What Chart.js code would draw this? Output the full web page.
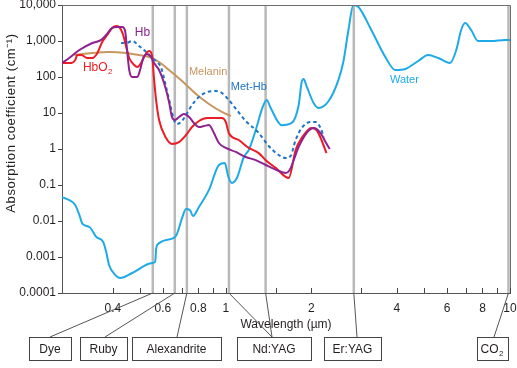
<!DOCTYPE html>
<html>
<head>
<meta charset="utf-8">
<script src="https://cdn.jsdelivr.net/npm/chart.js@4.4.1/dist/chart.umd.min.js"></script>
<style>
  html, body { margin: 0; padding: 0; background: #fff; }
  #chart { display: block; }
</style>
</head>
<body>
<canvas id="chart" width="517" height="368"></canvas>
<script>
// wavelength in µm, absorption coefficient in cm^-1
const waterWl  = [0.265,0.281,0.295,0.305,0.313,0.331,0.350,0.370,0.379,0.388,0.405,0.425,0.468,0.550,0.564,0.568,0.577,0.657,0.673,0.701,0.724,0.748,0.766,0.804,0.872,0.945,0.992,1.016,1.05,1.093,1.157,1.204,1.274,1.348,1.393,1.438,1.572,1.705,1.804,1.848,1.878,1.923,2.036,2.12,2.30,2.49,2.59,2.70,2.81,2.93,3.25,3.64,3.95,4.28,4.75,5.15,5.59,6.15,6.47,6.73,6.95,7.30,7.72,8.58,9.60,10];
const waterAbs = [0.046,0.038,0.028,0.0147,0.0083,0.0068,0.0036,0.0026,0.0014,0.0006,0.00034,0.00026,0.00036,0.00068,0.00073,0.0016,0.0023,0.0034,0.0044,0.012,0.0215,0.020,0.0138,0.0245,0.073,0.36,0.41,0.19,0.114,0.156,0.60,0.94,3.37,14.7,23,13.8,4.6,5.3,16.7,72,88,56,19,13.8,21.5,83,261,2020,10000,8800,2020,360,156,167,278,408,337,245,562,2020,3160,2020,1000,1000,1070,1070];

const hbWl  = [0.265,0.281,0.305,0.339,0.364,0.379,0.398,0.414,0.432,0.442,0.449,0.457,0.468,0.488,0.499,0.512,0.528,0.546,0.559,0.582,0.606,0.631,0.646,0.662,0.684,0.712,0.742,0.772,0.804,0.837,0.872,0.908,0.945,1.0,1.084,1.175,1.274,1.381,1.510,1.624,1.677,1.733,1.804,1.923,2.036,2.153,2.243,2.32];
const hbAbs = [245,337,562,880,1070,1470,2300,2450,2450,1900,562,156,100,100,156,337,435,360,245,156,68,20.2,7.74,6.4,7.74,9.4,7.74,5.3,4.08,4.35,4.64,2.78,1.47,1.07,0.83,0.60,0.49,0.36,0.26,0.215,0.26,0.49,1.14,2.78,3.83,2.78,1.56,1.0];

const hbo2Wl  = [0.265,0.286,0.295,0.300,0.310,0.325,0.339,0.353,0.367,0.382,0.398,0.411,0.421,0.435,0.446,0.457,0.476,0.488,0.503,0.520,0.537,0.550,0.559,0.568,0.582,0.616,0.646,0.684,0.724,0.760,0.804,0.858,0.922,0.968,1.0,1.024,1.11,1.204,1.305,1.381,1.497,1.664,1.76,1.849,2.0,2.085,2.17,2.26];
const hbo2Abs = [245,245,297,408,408,337,337,464,938,1470,2300,2610,2450,1470,681,337,215,190,245,408,527,383,83,23,6.4,2.02,1.38,1.56,2.45,4.08,6.0,7.26,7.26,7.26,5.6,2.78,1.78,1.07,0.77,0.49,0.30,0.156,0.94,2.02,3.83,3.37,1.78,0.77];

const melaninWl  = [0.293,0.339,0.388,0.446,0.495,0.537,0.582,0.631,0.701,0.785,0.872,0.968,1.041];
const melaninAbs = [408,464,495,464,408,360,261,156,77,33.7,17.8,10.7,8.25];

const metHbWl  = [0.428,0.446,0.468,0.495,0.524,0.550,0.568,0.592,0.616,0.641,0.657,0.673,0.695,0.724,0.760,0.804,0.858,0.922,0.968,1.024,1.093,1.175,1.305,1.415,1.535,1.624,1.690,1.760,1.849,1.987,2.07,2.155,2.21];
const metHbAbs = [880,880,1000,726,495,337,278,178,52.7,13.8,6.4,4.95,5.6,8.8,16.7,27.8,38.3,40.8,35.9,23,12.1,6.0,2.78,1.21,0.68,0.56,0.64,1.78,3.83,5.6,5.6,3.83,2.15];

// laser lines
const laserNames = ['Dye','Ruby','Alexandrite','Nd:YAG','Nd:YAG','Er:YAG','CO2'];
const laserWl    = [0.553,0.661,0.729,1.025,1.38,2.82,10];

// axis ticks
const xTickValues = [0.4,0.5,0.6,0.7,0.8,0.9,1,1.5,2,3,4,5,6,7,8,9,10];
const xTickLabels = ['0.4','','0.6','','0.8','','1','','2','','4','','6','','8','','10'];
const yTickValues = [0.0001,0.001,0.01,0.1,1,10,100,1000,10000];
const yTickLabels = ['0.0001','0.001','0.01','0.1','1','10','100','1,000','10,000'];

const WATER = '#1eaae6', HB = '#8e2390', HBO2 = '#ec1c24', MELANIN = '#c8965f', METHB = '#1f74c8';
const FONT = '"Liberation Sans", Arial, sans-serif';

// text labels next to the curves, anchored in data coordinates
const seriesLabels = [
  { text: 'Hb', wl: 0.478, val: 1670, color: HB, size: 12 },
  { text: 'HbO', sub: '2', wl: 0.314, val: 178, color: HBO2, size: 12 },
  { text: 'Melanin', wl: 0.741, val: 138, color: MELANIN, size: 11 },
  { text: 'Met-Hb', wl: 1.041, val: 52.7, color: METHB, size: 11 },
  { text: 'Water', wl: 3.78, val: 82.6, color: WATER, size: 11 }
];

// label boxes under the axis (pixel layout)
const boxLayout = {
  'Dye':         { x: 29,  w: 42, anchor: 50 },
  'Ruby':        { x: 80,  w: 47, anchor: 105 },
  'Alexandrite': { x: 132, w: 89, anchor: 177 },
  'Nd:YAG':      { x: 237, w: 74, anchor: 272 },
  'Er:YAG':      { x: 324, w: 57, anchor: 357 },
  'CO2':         { x: 477, w: 31, anchor: 494 }
};
const boxTop = 337, boxH = 23;

function zip(xs, ys) {
  return xs.map((x, i) => ({ x: x, y: ys[i] }));
}

function series(label, xs, ys, color, dash) {
  return {
    label: label,
    data: zip(xs, ys),
    borderColor: color,
    borderWidth: 2,
    borderDash: dash || [],
    pointRadius: 0,
    fill: false,
    cubicInterpolationMode: 'monotone'
  };
}

function drawSubText(ctx, text, sub, x, y, size) {
  ctx.font = size + 'px ' + FONT;
  ctx.textAlign = 'left';
  ctx.textBaseline = 'middle';
  ctx.fillText(text, x, y);
  if (sub) {
    const w = ctx.measureText(text).width;
    ctx.font = Math.round(size * 0.7) + 'px ' + FONT;
    ctx.fillText(sub, x + w + 0.5, y + size * 0.35);
  }
}

const decor = {
  id: 'decor',
  beforeDatasetsDraw(chart) {
    const { ctx, chartArea: a, scales: { x } } = chart;
    ctx.save();
    ctx.strokeStyle = '#b9b9b9';
    ctx.lineWidth = 2.5;
    laserWl.forEach(w => {
      const px = Math.min(x.getPixelForValue(w), a.right - 1.5);
      ctx.beginPath();
      ctx.moveTo(px, a.top);
      ctx.lineTo(px, a.bottom);
      ctx.stroke();
    });
    ctx.restore();
  },
  afterDraw(chart) {
    const { ctx, chartArea: a, scales: { x, y } } = chart;
    ctx.save();

    // frame top and right
    ctx.strokeStyle = '#6e6e6e';
    ctx.lineWidth = 1;
    ctx.beginPath();
    ctx.moveTo(a.left, a.top + 0.5);
    ctx.lineTo(a.right + 0.5, a.top + 0.5);
    ctx.lineTo(a.right + 0.5, a.bottom);
    ctx.stroke();

    // tick marks: x inward, y outward
    ctx.strokeStyle = '#444';
    ctx.beginPath();
    xTickValues.forEach(v => {
      const px = Math.round(x.getPixelForValue(v)) + 0.5;
      ctx.moveTo(px, a.bottom);
      ctx.lineTo(px, a.bottom - 5);
    });
    yTickValues.forEach(v => {
      const py = Math.round(y.getPixelForValue(v)) + 0.5;
      ctx.moveTo(a.left, py);
      ctx.lineTo(a.left - 4, py);
    });
    ctx.stroke();

    // y axis title
    ctx.save();
    ctx.translate(11, 123);
    ctx.rotate(-Math.PI / 2);
    ctx.fillStyle = '#231f20';
    ctx.font = '13px ' + FONT;
    ctx.letterSpacing = '0.6px';
    ctx.textAlign = 'center';
    ctx.textBaseline = 'middle';
    ctx.fillText('Absorption coefficient (cm\u207B\u00B9)', 0, 0);
    ctx.restore();

    // curve labels
    seriesLabels.forEach(l => {
      ctx.fillStyle = l.color;
      drawSubText(ctx, l.text, l.sub, x.getPixelForValue(l.wl), y.getPixelForValue(l.val), l.size);
    });

    // connectors from laser lines to boxes
    ctx.strokeStyle = '#555';
    ctx.lineWidth = 1;
    laserWl.forEach((w, i) => {
      const b = boxLayout[laserNames[i]];
      const px = Math.min(x.getPixelForValue(w), a.right - 1.5);
      ctx.beginPath();
      ctx.moveTo(px, a.bottom);
      ctx.lineTo(b.anchor, boxTop);
      ctx.stroke();
    });

    // boxes
    Object.keys(boxLayout).forEach(name => {
      const b = boxLayout[name];
      ctx.fillStyle = '#fff';
      ctx.fillRect(b.x, boxTop, b.w, boxH);
      ctx.strokeStyle = '#444';
      ctx.strokeRect(b.x + 0.5, boxTop + 0.5, b.w, boxH);
      ctx.fillStyle = '#231f20';
      const cx = b.x + b.w / 2, cy = boxTop + boxH / 2 + 1;
      if (name === 'CO2') {
        ctx.font = '12px ' + FONT;
        const tw = ctx.measureText('CO').width + 6;
        drawSubText(ctx, 'CO', '2', cx - tw / 2, cy, 12);
      } else {
        ctx.font = '12px ' + FONT;
        ctx.textAlign = 'center';
        ctx.textBaseline = 'middle';
        ctx.fillText(name, cx, cy);
      }
    });

    ctx.restore();
  }
};

new Chart(document.getElementById('chart'), {
  type: 'line',
  data: {
    datasets: [
      series('Hb', hbWl, hbAbs, HB),
      series('HbO2', hbo2Wl, hbo2Abs, HBO2),
      series('Met-Hb', metHbWl, metHbAbs, METHB, [3.5, 3]),
      series('Melanin', melaninWl, melaninAbs, MELANIN),
      series('Water', waterWl, waterAbs, WATER)
    ]
  },
  options: {
    responsive: false,
    animation: false,
    devicePixelRatio: 1,
    layout: { padding: { top: 5, right: 7, left: 0, bottom: 0 } },
    plugins: {
      legend: { display: false },
      tooltip: { enabled: false }
    },
    scales: {
      x: {
        type: 'logarithmic',
        min: 0.265,
        max: 10,
        grid: { display: false, drawTicks: false },
        border: { display: true, color: '#555', width: 1 },
        afterBuildTicks: s => { s.ticks = xTickValues.map(v => ({ value: v })); },
        afterFit: s => { s.height = 75; s.paddingLeft = 0; s.paddingRight = 0; },
        ticks: {
          autoSkip: false,
          maxRotation: 0,
          padding: 8,
          color: '#231f20',
          font: { family: FONT, size: 12 },
          callback: (v, i) => xTickLabels[i]
        },
        title: {
          display: true,
          text: 'Wavelength (µm)',
          color: '#231f20',
          font: { family: FONT, size: 12 },
          padding: { top: 0, bottom: 36 }
        }
      },
      y: {
        type: 'logarithmic',
        min: 0.0001,
        max: 10000,
        grid: { display: false, drawTicks: false },
        border: { display: true, color: '#555', width: 1 },
        afterBuildTicks: s => { s.ticks = yTickValues.map(v => ({ value: v })); },
        afterFit: s => { s.width = 62; s.paddingTop = 0; s.paddingBottom = 0; },
        ticks: {
          padding: 6,
          color: '#231f20',
          font: { family: FONT, size: 12 },
          callback: (v, i) => yTickLabels[i]
        }
      }
    }
  },
  plugins: [decor]
});
</script>
</body>
</html>
